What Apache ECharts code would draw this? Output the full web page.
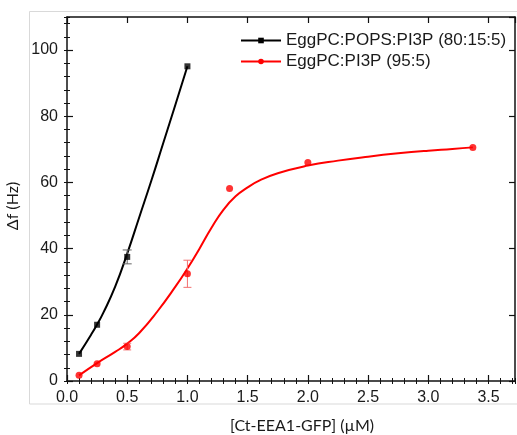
<!DOCTYPE html>
<html>
<head>
<meta charset="utf-8">
<script src="https://cdn.jsdelivr.net/npm/echarts@6/dist/echarts.min.js"></script>
<style>html,body{margin:0;padding:0;background:#fff;}#c{width:517px;height:435px;}</style>
</head>
<body>
<div id="c"></div>
<script>
// ---- data ----
const seriesNames = ['EggPC:POPS:PI3P (80:15:5)', 'EggPC:PI3P (95:5)'];

const blackX = [0.1, 0.25, 0.5, 1.0];
const blackY = [8.2, 17.0, 37.5, 95.1];
const blackErr = [0, 0, 2.1, 0];

const redX = [0.1, 0.25, 0.5, 1.0, 1.35, 2.0, 3.37];
const redY = [1.7, 5.2, 10.4, 32.4, 58.2, 66.0, 70.6];
const redErr = [0, 0, 1.0, 4.1, 0, 0, 0];

// fitted curves
const blackFitX = [0.1, 0.2, 0.25, 0.3, 0.4, 0.5, 0.6, 0.7, 0.8, 0.9, 1.0];
const blackFitY = [8.2, 14.0, 17.1, 20.5, 28.5, 38.5, 49.5, 60.5, 72.0, 83.5, 95.1];

const redFitX = [0.1, 0.25, 0.4, 0.5, 0.6, 0.75, 0.9, 1.0, 1.1, 1.2, 1.3, 1.4, 1.5, 1.6, 1.75, 2.0, 2.25, 2.5, 2.75, 3.0, 3.2, 3.37];
const redFitY = [1.7, 5.4, 8.8, 11.3, 14.5, 21.0, 28.5, 34.0, 40.0, 46.3, 51.8, 55.8, 58.5, 60.6, 62.8, 65.1, 66.6, 67.8, 68.8, 69.6, 70.1, 70.6];

const xTickLabels = ['0.0', '0.5', '1.0', '1.5', '2.0', '2.5', '3.0', '3.5'];
const yTickLabels = ['0', '20', '40', '60', '80', '100'];

// ---- helpers ----
const zip = (xs, ys) => xs.map((x, i) => [x, ys[i]]);
const zip3 = (xs, ys, es) => xs.map((x, i) => [x, ys[i], es[i]]);

const X_MIN = 0, X_MAX = 3.72, Y_MIN = 0, Y_MAX = 110;
const tickFont = { fontFamily: 'Liberation Sans', fontSize: 16, color: '#1a1a1a' };
const lineCol = '#111';

function xAxisDef(pos, interval, opts) {
  return Object.assign({
    type: 'value', position: pos, min: X_MIN, max: X_MAX, interval: interval,
    axisLine: { show: false }, splitLine: { show: false },
    axisTick: { show: true, inside: true, length: 3, lineStyle: { color: lineCol, width: 1 } },
    axisLabel: { show: false }
  }, opts || {});
}
function yAxisDef(pos, interval, opts) {
  return Object.assign({
    type: 'value', position: pos, min: Y_MIN, max: Y_MAX, interval: interval,
    axisLine: { show: false }, splitLine: { show: false },
    axisTick: { show: true, inside: true, length: 3, lineStyle: { color: lineCol, width: 1 } },
    axisLabel: { show: false }
  }, opts || {});
}

function errorBars(color, hw) {
  return function (params, api) {
    const x = api.value(0), y = api.value(1), e = api.value(2);
    if (!e) return null;
    const t = api.coord([x, y + e]);
    const b = api.coord([x, y - e]);
    const st = { stroke: color, lineWidth: 1 };
    return {
      type: 'group',
      children: [
        { type: 'line', shape: { x1: t[0], y1: t[1], x2: b[0], y2: b[1] }, style: st },
        { type: 'line', shape: { x1: t[0] - hw, y1: t[1], x2: t[0] + hw, y2: t[1] }, style: st },
        { type: 'line', shape: { x1: b[0] - hw, y1: b[1], x2: b[0] + hw, y2: b[1] }, style: st }
      ]
    };
  };
}

const chart = echarts.init(document.getElementById('c'), null, { renderer: 'canvas' });
chart.setOption({
  animation: false,
  backgroundColor: '#fff',
  graphic: [{
    type: 'rect', z: -10, silent: true,
    shape: { x: 29.5, y: 11.5, width: 520, height: 392.5 },
    style: { fill: 'none', stroke: '#d9d9d9', lineWidth: 1 }
  }],
  grid: { left: 67, top: 17, right: 2, bottom: 54, containLabel: false, outerBoundsMode: 'none' },
  legend: {
    orient: 'vertical', left: 235, top: 27,
    itemWidth: 40, itemHeight: 7, itemGap: 4,
    selectedMode: false,
    textStyle: { fontFamily: 'Liberation Sans', fontSize: 17, color: '#1a1a1a' },
    data: seriesNames
  },
  xAxis: [
    xAxisDef('bottom', 0.5, {
      axisLine: { show: true, onZero: false, lineStyle: { color: lineCol, width: 1.5 } },
      axisTick: { show: true, inside: true, length: 6, lineStyle: { color: lineCol, width: 1.2 } },
      axisLabel: {
        show: true, margin: 9, ...tickFont,
        showMaxLabel: false,
        formatter: function (v) {
          const i = Math.round(v / 0.5);
          return Math.abs(v - i * 0.5) < 1e-6 && xTickLabels[i] !== undefined ? xTickLabels[i] : '';
        }
      },
      name: '[Ct-EEA1-GFP] (\u00b5M)', nameLocation: 'middle', nameGap: 37,
      nameTextStyle: { fontFamily: 'Lato', fontSize: 16, color: '#1a1a1a', padding: [0, 0, 0, 22] }
    }),
    xAxisDef('bottom', 0.1),
    xAxisDef('top', 0.5, {
      axisLine: { show: true, onZero: false, lineStyle: { color: lineCol, width: 1.5 } },
      axisTick: { show: true, inside: true, length: 6, lineStyle: { color: lineCol, width: 1.2 } }
    }),
    xAxisDef('top', 0.1)
  ],
  yAxis: [
    yAxisDef('left', 20, {
      axisLine: { show: true, onZero: false, lineStyle: { color: lineCol, width: 1.5 } },
      axisTick: { show: true, inside: true, length: 6, lineStyle: { color: lineCol, width: 1.2 } },
      axisLabel: {
        show: true, margin: 9, ...tickFont,
        showMaxLabel: false,
        formatter: function (v) {
          const i = Math.round(v / 20);
          return Math.abs(v - i * 20) < 1e-6 && yTickLabels[i] !== undefined ? yTickLabels[i] : '';
        }
      },
      name: '\u0394f (Hz)', nameLocation: 'middle', nameGap: 37, nameRotate: 90,
      nameTextStyle: { fontFamily: 'Lato', fontSize: 16, color: '#1a1a1a', padding: [0, 14, 0, 0] }
    }),
    yAxisDef('left', 4),
    yAxisDef('right', 20, {
      axisLine: { show: true, onZero: false, lineStyle: { color: lineCol, width: 1.5 } },
      axisTick: { show: true, inside: true, length: 6, lineStyle: { color: lineCol, width: 1.2 } }
    }),
    yAxisDef('right', 4)
  ],
  series: [
    {
      name: seriesNames[0], type: 'line', smooth: true, showSymbol: false,
      symbol: 'rect', symbolSize: 6,
      data: zip(blackFitX, blackFitY),
      lineStyle: { color: '#000', width: 2 }, itemStyle: { color: '#000' },
      z: 3
    },
    {
      name: seriesNames[1], type: 'line', smooth: true, showSymbol: false,
      symbol: 'circle', symbolSize: 6,
      data: zip(redFitX, redFitY),
      lineStyle: { color: '#ff0000', width: 2 }, itemStyle: { color: '#ff0000' },
      z: 3
    },
    {
      name: 'blackErr', type: 'custom', renderItem: errorBars('#666666', 4.5),
      data: zip3(blackX, blackY, blackErr), z: 4
    },
    {
      name: 'redErr', type: 'custom', renderItem: errorBars('#f27070', 4),
      data: zip3(redX, redY, redErr), z: 4
    },
    {
      name: 'blackPts', type: 'scatter', symbol: 'rect', symbolSize: 6,
      data: zip(blackX, blackY), itemStyle: { color: '#000' }, z: 5
    },
    {
      name: 'redPts', type: 'scatter', symbol: 'circle', symbolSize: 7,
      data: zip(redX, redY), itemStyle: { color: '#ff0000' }, z: 5
    }
  ]
});
</script>
</body>
</html>
